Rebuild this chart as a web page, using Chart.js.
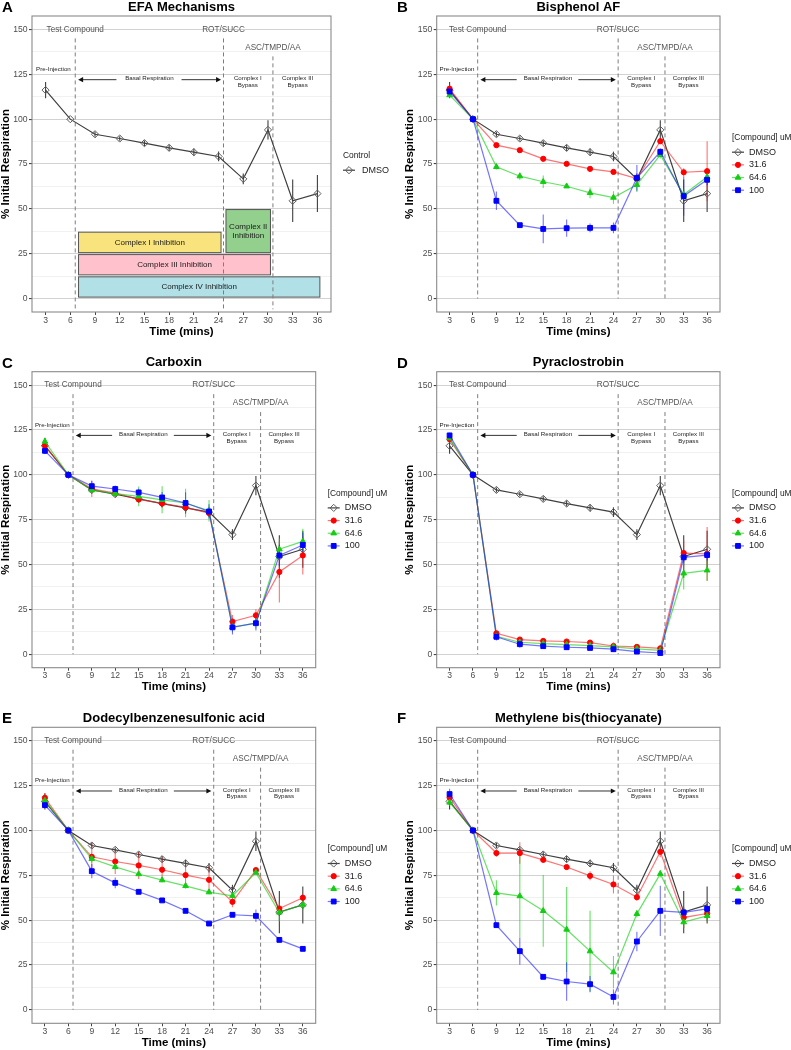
<!DOCTYPE html>
<html>
<head>
<meta charset="utf-8">
<script src="https://cdn.jsdelivr.net/npm/chart.js@4/dist/chart.umd.min.js"></script>
<style>
  body { margin: 0; background: #fff; width: 791px; height: 1050px; position: relative; overflow: hidden; }
  canvas { position: absolute; }
</style>
</head>
<body>
<canvas id="pA"></canvas>
<canvas id="pB"></canvas>
<canvas id="pC"></canvas>
<canvas id="pD"></canvas>
<canvas id="pE"></canvas>
<canvas id="pF"></canvas>
<script>
/* ================= DATA ================= */
const times = [3, 6, 9, 12, 15, 18, 21, 24, 27, 30, 33, 36];
const yTicks = [0, 25, 50, 75, 100, 125, 150];
const injectionTimes = [6.6, 24.6, 30.6];
const concLabels = ["DMSO", "31.6", "64.6", "100"];
const panelLetters = ["A", "B", "C", "D", "E", "F"];
const panelTitles = ["EFA Mechanisms", "Bisphenol AF", "Carboxin", "Pyraclostrobin",
  "Dodecylbenzenesulfonic acid", "Methylene bis(thiocyanate)"];

const dmso = [116.2, 100, 91.6, 89.2, 86.6, 84.0, 81.6, 79.2, 66.7, 94.0, 54.5, 58.5];
const dmsoErr = [4.5, 0, 1.4, 1.3, 1.5, 1.7, 2.0, 2.7, 3.0, 5.4, 11.8, 10.3];

const bpa316 = [117.0, 100, 85.5, 82.7, 77.9, 75.1, 72.3, 70.6, 66.9, 87.7, 70.4, 71.0];
const bpa316Err = [2.5, 0, 1, 1, 1.2, 1, 1, 1, 1.5, 1.5, 2.3, 16.7];
const bpa646 = [113.4, 100, 73.4, 68.2, 65.1, 62.6, 58.9, 56.3, 63.4, 80.1, 58.0, 67.8];
const bpa646Err = [1.5, 0, 1.5, 2, 3.5, 1, 3, 3.5, 4, 2, 3, 2];
const bpa100 = [115.4, 100, 54.5, 40.9, 38.8, 39.2, 39.4, 39.4, 67.3, 81.8, 57.1, 66.2];
const bpa100Err = [1.5, 0, 5.2, 1, 8, 4.8, 2.5, 3, 7.2, 2, 11, 3];

const cbx316 = [116.4, 100, 92.2, 89.8, 86.3, 84.1, 81.9, 78.7, 18.2, 21.7, 45.9, 55.1];
const cbx316Err = [2, 0, 4.5, 2, 2, 2.5, 3, 2, 3.7, 3.4, 17, 10.7];
const cbx646 = [118.6, 100, 91.5, 89.5, 88.0, 86.1, 84.3, 80.0, 15.2, 17.4, 58.5, 62.9];
const cbx646Err = [2, 0, 2, 2, 5.5, 7.5, 8, 6, 3, 3, 6, 7];
const cbx100 = [113.4, 100, 93.7, 92.1, 90.2, 87.4, 84.3, 79.6, 15.0, 17.3, 55.1, 60.9];
const cbx100Err = [1.5, 0, 3, 2, 2, 3, 6, 4, 4, 4, 6, 7];

const pyr316 = [119.9, 100, 11.7, 8.2, 7.4, 7.1, 6.5, 4.6, 4.1, 3.3, 56.4, 55.9];
const pyr316Err = [2, 0, 1, 1, 1, 1, 1, 2, 1, 1, 7, 15];
const pyr646 = [120.5, 100, 10.0, 6.7, 5.9, 5.4, 4.8, 4.1, 3.0, 2.2, 45.1, 46.8];
const pyr646Err = [2, 0, 1.5, 1, 1, 1, 1, 1, 1, 1, 9, 6];
const pyr100 = [122.0, 100, 9.7, 5.6, 4.5, 3.9, 3.5, 2.8, 1.5, 0.7, 54.0, 55.3];
const pyr100Err = [1.5, 0, 2, 2, 1, 1, 1, 1, 1, 0.5, 3, 3];

const dbs316 = [118.2, 100, 85.3, 82.7, 80.5, 78.1, 75.1, 72.5, 60.2, 77.9, 56.5, 62.5];
const dbs316Err = [2.5, 0, 8, 7, 7.5, 7, 7.5, 8, 3, 1, 4.5, 2];
const dbs646 = [116.7, 100, 84.2, 79.7, 75.7, 72.3, 69.1, 65.6, 63.6, 76.5, 54.3, 58.7];
const dbs646Err = [2, 0, 2, 1.5, 1, 1, 1, 1, 1.5, 1, 5, 3];
const dbs100 = [114.1, 100, 77.3, 70.8, 65.8, 61.0, 55.2, 48.1, 53.0, 52.4, 39.0, 34.0];
const dbs100Err = [1.5, 0, 4, 3, 1, 1, 1, 1, 1, 3.5, 1, 1];

const mbt316 = [118.4, 100, 87.4, 87.4, 83.6, 79.6, 74.7, 69.9, 62.8, 88.1, 51.5, 53.7];
const mbt316Err = [2, 0, 2, 6, 1, 1, 2.5, 5, 2, 3, 6, 4];
const mbt646 = [115.6, 100, 65.2, 63.4, 55.2, 44.8, 32.7, 21.0, 53.5, 75.8, 48.9, 52.4];
const mbt646Err = [2, 0, 7, 23, 20, 23.7, 22.5, 9, 2, 2, 3, 3];
const mbt100 = [120.3, 100, 47.2, 32.7, 18.4, 15.8, 14.3, 7.2, 38.1, 55.2, 54.3, 56.3];
const mbt100Err = [3, 0, 1, 7.6, 1, 10.7, 4.5, 4.2, 5.5, 14, 2, 3];

// panel A inhibition boxes (time / % coordinates)
const boxNames = ["Complex I Inhibition", "Complex II\nInhibition", "Complex III Inhibition", "Complex IV Inhibition"];
const boxStart = [7.0, 24.9, 7.0, 7.0];
const boxEnd = [24.3, 30.3, 30.3, 36.3];
const boxLow = [25.6, 25.6, 13.2, 0.8];
const boxHigh = [37.0, 49.6, 24.5, 12.1];

/* ================= STYLE ================= */
const FONT = '"Liberation Sans", Arial, Helvetica, sans-serif';
const boxColors = ["#f8e37d", "#93d08d", "#ffc1cc", "#b1e0e6"];
const seriesStyle = [
  { line: "#3f3f3f", point: "#5c5c5c", fill: "rgba(255,255,255,0)", shape: "rectRot", r: 3.6 },
  { line: "rgba(255,30,30,0.62)", point: "#ff0000", fill: "#ff0000", shape: "circle", r: 2.6 },
  { line: "rgba(20,210,20,0.65)", point: "#15cc15", fill: "#15cc15", shape: "triangle", r: 3.3 },
  { line: "rgba(30,30,255,0.62)", point: "#0000ff", fill: "#0000ff", shape: "rect", r: 3.4 }
];

const frames = [
  { left: 0, top: 0, w: 395, h: 345, area: [32, 331, 16, 312] },
  { left: 395, top: 0, w: 396, h: 345, area: [41.7, 325, 16, 312] },
  { left: 0, top: 345, w: 395, h: 350, area: [32, 315.7, 26.7, 322.7] },
  { left: 395, top: 345, w: 396, h: 350, area: [41.7, 325, 26.7, 322.7] },
  { left: 0, top: 695, w: 395, h: 355, area: [32, 315.7, 32.3, 328.3] },
  { left: 395, top: 695, w: 396, h: 355, area: [41.7, 325, 32.3, 328.3] }
];

const panelSeries = [
  [[dmso, dmsoErr]],
  [[dmso, dmsoErr], [bpa316, bpa316Err], [bpa646, bpa646Err], [bpa100, bpa100Err]],
  [[dmso, dmsoErr], [cbx316, cbx316Err], [cbx646, cbx646Err], [cbx100, cbx100Err]],
  [[dmso, dmsoErr], [pyr316, pyr316Err], [pyr646, pyr646Err], [pyr100, pyr100Err]],
  [[dmso, dmsoErr], [dbs316, dbs316Err], [dbs646, dbs646Err], [dbs100, dbs100Err]],
  [[dmso, dmsoErr], [mbt316, mbt316Err], [mbt646, mbt646Err], [mbt100, mbt100Err]]
];

const yMinor = yTicks.slice(1).map((v, i) => (v + yTicks[i]) / 2);
const yGrid = yTicks.concat(yMinor).sort((a, b) => a - b);

/* ================= HELPERS ================= */
function marker(ctx, st, x, y) {
  const r = st.r;
  ctx.beginPath();
  if (st.shape === "circle") {
    ctx.arc(x, y, r, 0, Math.PI * 2);
  } else if (st.shape === "triangle") {
    ctx.moveTo(x, y - r);
    ctx.lineTo(x + r * 0.866, y + r * 0.5);
    ctx.lineTo(x - r * 0.866, y + r * 0.5);
    ctx.closePath();
  } else if (st.shape === "rect") {
    const s = r * Math.SQRT1_2;
    ctx.rect(x - s, y - s, 2 * s, 2 * s);
  } else {
    ctx.moveTo(x, y - r);
    ctx.lineTo(x + r, y);
    ctx.lineTo(x, y + r);
    ctx.lineTo(x - r, y);
    ctx.closePath();
  }
  ctx.fillStyle = st.fill;
  ctx.fill();
  ctx.lineWidth = 1;
  ctx.strokeStyle = st.point;
  ctx.stroke();
}

function arrow(ctx, x0, x1, y) {
  const dir = Math.sign(x1 - x0);
  ctx.beginPath();
  ctx.moveTo(x0, y);
  ctx.lineTo(x1 - dir * 4, y);
  ctx.stroke();
  ctx.beginPath();
  ctx.moveTo(x1, y);
  ctx.lineTo(x1 - dir * 5, y - 2.6);
  ctx.lineTo(x1 - dir * 5, y + 2.6);
  ctx.closePath();
  ctx.fill();
}

/* ================= PLUGIN ================= */
const decor = {
  id: "decor",
  beforeDatasetsDraw(chart, args, o) {
    const { ctx, scales: { x, y } } = chart;
    ctx.save();
    if (o.boxes) {
      boxNames.forEach((name, i) => {
        const x0 = x.getPixelForValue(boxStart[i]), x1 = x.getPixelForValue(boxEnd[i]);
        const y0 = y.getPixelForValue(boxHigh[i]), y1 = y.getPixelForValue(boxLow[i]);
        ctx.fillStyle = boxColors[i];
        ctx.fillRect(x0, y0, x1 - x0, y1 - y0);
        ctx.strokeStyle = "#555";
        ctx.lineWidth = 1;
        ctx.strokeRect(x0, y0, x1 - x0, y1 - y0);
        ctx.fillStyle = "#1a1a1a";
        ctx.font = "8px " + FONT;
        ctx.textAlign = "center";
        ctx.textBaseline = "middle";
        const lines = name.split("\n");
        lines.forEach((ln, k) => {
          ctx.fillText(ln, (x0 + x1) / 2, (y0 + y1) / 2 + (k - (lines.length - 1) / 2) * 8.8);
        });
      });
    }
    // injection lines
    ctx.strokeStyle = "#7d7d7d";
    ctx.lineWidth = 1;
    ctx.setLineDash([4, 3]);
    injectionTimes.forEach((t, i) => {
      const px = x.getPixelForValue(t);
      ctx.beginPath();
      ctx.moveTo(px, y.getPixelForValue(i === 2 ? 135 : 145));
      ctx.lineTo(px, y.getPixelForValue(o.vlineLow));
      ctx.stroke();
    });
    ctx.setLineDash([]);
    // error bars
    chart.data.datasets.forEach((ds) => {
      ctx.strokeStyle = ds.borderColor;
      ctx.lineWidth = 1.1;
      ds.data.forEach((p, i) => {
        const e = ds.errs[i];
        if (!e) return;
        const px = x.getPixelForValue(p.x);
        ctx.beginPath();
        ctx.moveTo(px, y.getPixelForValue(p.y - e));
        ctx.lineTo(px, y.getPixelForValue(p.y + e));
        ctx.stroke();
      });
    });
    ctx.restore();
  },
  afterDatasetsDraw(chart) {
    const { ctx, scales: { x, y } } = chart;
    ctx.save();
    ctx.textAlign = "center";
    ctx.textBaseline = "middle";
    ctx.fillStyle = "#555";
    ctx.font = "8.2px " + FONT;
    ctx.fillText("Test Compound", x.getPixelForValue(6.6), y.getPixelForValue(150));
    ctx.fillText("ROT/SUCC", x.getPixelForValue(24.6), y.getPixelForValue(150));
    ctx.fillText("ASC/TMPD/AA", x.getPixelForValue(30.6), y.getPixelForValue(140));
    ctx.fillStyle = "#222";
    ctx.font = "6.2px " + FONT;
    ctx.fillText("Pre-Injection", x.getPixelForValue(3.95), y.getPixelForValue(127.8));
    ctx.fillText("Basal Respiration", x.getPixelForValue(15.6), y.getPixelForValue(122.6));
    ctx.fillText("Complex I", x.getPixelForValue(27.55), y.getPixelForValue(122.6));
    ctx.fillText("Bypass", x.getPixelForValue(27.55), y.getPixelForValue(118.9));
    ctx.fillText("Complex III", x.getPixelForValue(33.6), y.getPixelForValue(122.6));
    ctx.fillText("Bypass", x.getPixelForValue(33.6), y.getPixelForValue(118.9));
    ctx.strokeStyle = "#333";
    ctx.fillStyle = "#111";
    ctx.lineWidth = 1;
    const ay = y.getPixelForValue(122);
    arrow(ctx, x.getPixelForValue(11.6), x.getPixelForValue(6.95), ay);
    arrow(ctx, x.getPixelForValue(19.5), x.getPixelForValue(24.3), ay);
    ctx.restore();
  },
  afterDraw(chart, args, o) {
    const { ctx, chartArea: a } = chart;
    ctx.save();
    ctx.strokeStyle = "#8a8a8a";
    ctx.lineWidth = 1.1;
    ctx.strokeRect(a.left, a.top, a.right - a.left, a.bottom - a.top);
    const cx = (a.left + a.right) / 2, cy = (a.top + a.bottom) / 2;
    ctx.fillStyle = "#000";
    ctx.textBaseline = "middle";
    ctx.textAlign = "left";
    ctx.font = "bold 15px " + FONT;
    ctx.fillText(o.letter, 2, o.letterY);
    ctx.textAlign = "center";
    ctx.font = "bold 13px " + FONT;
    ctx.fillText(o.title, cx, a.top - 9);
    ctx.font = "bold 11.5px " + FONT;
    ctx.fillText("Time (mins)", cx, a.bottom + 19.5);
    ctx.save();
    ctx.translate(a.left - 26.5, cy);
    ctx.rotate(-Math.PI / 2);
    ctx.fillText("% Initial Respiration", 0, 0);
    ctx.restore();
    // legend
    const lx = a.right + 12;
    const n = chart.data.datasets.length;
    const total = 14.4 + (n - 1) * 12.67;
    let ly = cy - total / 2 - (n === 1 ? 1 : 0);
    ctx.textAlign = "left";
    ctx.fillStyle = "#222";
    ctx.font = "8.4px " + FONT;
    ctx.fillText(o.legendTitle, lx, ly);
    ly += 14.4;
    chart.data.datasets.forEach((ds, i) => {
      const st = seriesStyle[i];
      ctx.strokeStyle = st.line;
      ctx.lineWidth = 1.2;
      ctx.beginPath();
      ctx.moveTo(lx, ly);
      ctx.lineTo(lx + 12, ly);
      ctx.stroke();
      marker(ctx, st, lx + 6, ly);
      ctx.fillStyle = "#222";
      ctx.font = "9px " + FONT;
      ctx.fillText(ds.label, lx + (n === 1 ? 19 : 17), ly);
      ly += 12.67;
    });
    ctx.restore();
  }
};

/* ================= BUILD PANELS ================= */
const XH = 20;

frames.forEach((f, p) => {
  const cv = document.getElementById("p" + panelLetters[p]);
  cv.width = f.w;
  cv.height = f.h;
  cv.style.left = f.left + "px";
  cv.style.top = f.top + "px";
  const [L, R, T, B] = f.area;

  const datasets = panelSeries[p].map(([vals, errs], i) => {
    const st = seriesStyle[i];
    return {
      label: concLabels[i],
      data: times.map((t, k) => ({ x: t, y: vals[k] })),
      errs: errs,
      borderColor: st.line,
      borderWidth: 1.2,
      pointStyle: st.shape,
      pointRadius: st.r,
      pointBackgroundColor: st.fill,
      pointBorderColor: st.point,
      pointBorderWidth: 1,
      tension: 0,
      order: 4 - i
    };
  });

  new Chart(cv, {
    type: "line",
    data: { datasets },
    options: {
      responsive: false,
      animation: false,
      events: [],
      layout: { padding: { left: 0, top: T, right: f.w - R, bottom: f.h - B - XH } },
      plugins: {
        legend: { display: false },
        tooltip: { enabled: false },
        decor: {
          letter: panelLetters[p],
          letterY: T - 8,
          title: panelTitles[p],
          legendTitle: p === 0 ? "Control" : "[Compound] uM",
          boxes: p === 0,
          vlineLow: p === 0 ? -6 : 0
        }
      },
      scales: {
        x: {
          type: "linear",
          min: 1.35,
          max: 37.65,
          afterFit(s) { s.height = XH; },
          afterBuildTicks(s) { s.ticks = times.map((v) => ({ value: v })); },
          grid: { drawOnChartArea: false, drawTicks: true, tickLength: 3, color: "#444", lineWidth: 1 },
          border: { display: false },
          ticks: { autoSkip: false, maxRotation: 0, padding: 0, color: "#4d4d4d", font: { family: FONT, size: 8.6 } }
        },
        y: {
          min: -7.5,
          max: 157.5,
          afterFit(s) { s.width = L; },
          afterBuildTicks(s) { s.ticks = yGrid.map((v) => ({ value: v })); },
          grid: {
            drawTicks: true,
            tickLength: 3,
            color: (c) => (yTicks.includes(c.tick.value) ? "#d2d2d2" : "#ededed"),
            lineWidth: (c) => (yTicks.includes(c.tick.value) ? 1.1 : 0.8),
            tickColor: (c) => (yTicks.includes(c.tick.value) ? "#444" : "rgba(0,0,0,0)")
          },
          border: { display: false },
          ticks: {
            autoSkip: false,
            padding: 1.5,
            color: "#4d4d4d",
            font: { family: FONT, size: 8.6 },
            callback: (v) => (yTicks.includes(v) ? String(v) : "")
          }
        }
      }
    },
    plugins: [decor]
  });
});
</script>
</body>
</html>
